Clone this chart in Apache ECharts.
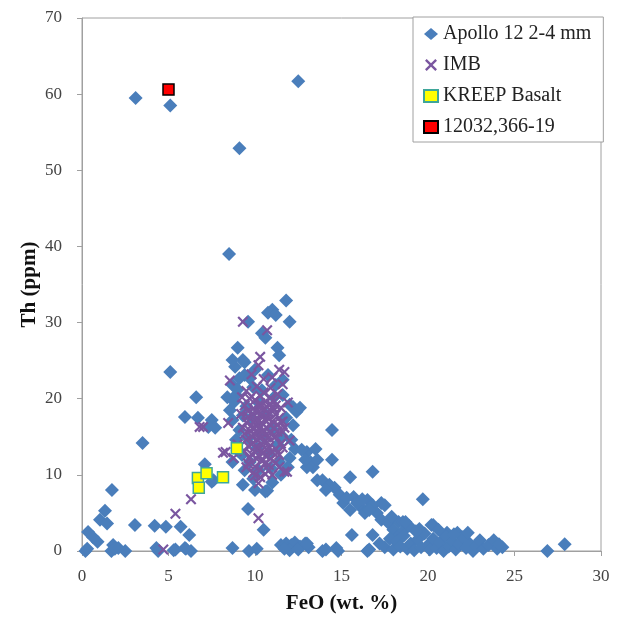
<!DOCTYPE html>
<html>
<head>
<meta charset="utf-8">
<script src="https://cdn.jsdelivr.net/npm/echarts@6/dist/echarts.min.js"></script>
<style>
  html, body { margin: 0; padding: 0; background: #fff; }
  #main { width: 621px; height: 619px; }
</style>
</head>
<body>
<div id="main"></div>
<script>
// FeO (wt. %) vs Th (ppm)
const xTicks = [0, 5, 10, 15, 20, 25, 30];
const yTicks = [0, 10, 20, 30, 40, 50, 60, 70];

const apollo = [
  // high-Th outliers
  [3.1, 59.5], [5.1, 58.5], [12.5, 61.7], [9.1, 52.9], [8.5, 39.0], [11.8, 32.9],
  // upper part of cluster
  [12.0, 30.1], [11.0, 31.7], [10.75, 31.3], [11.2, 31.0], [9.6, 30.1], [10.4, 28.6],
  [10.6, 28.0], [11.3, 26.7], [9.0, 26.7], [9.3, 25.1], [8.85, 24.2], [11.4, 25.7],
  [8.7, 25.1], [9.4, 24.8],
  // low FeO side
  [5.1, 23.5], [6.6, 20.2], [5.95, 17.6], [6.7, 17.5], [7.5, 17.2], [7.7, 16.2],
  [7.3, 16.3], [8.4, 20.2], [7.1, 11.4], [7.5, 9.1], [7.6, 9.3], [3.5, 14.2],
  [1.73, 8.0], [1.33, 5.3], [1.04, 4.1], [1.45, 3.6], [0.35, 2.5], [0.64, 1.8],
  [0.9, 1.2], [1.8, 0.8], [3.06, 3.4], [4.2, 3.3], [4.85, 3.2], [5.7, 3.2], [6.2, 2.1],
  // cluster edges
  [9.1, 22.7], [9.4, 23.1], [8.7, 21.8], [8.9, 20.5], [8.55, 18.5], [8.7, 17.2],
  [9.1, 15.9], [8.9, 14.6], [9.25, 12.6], [8.7, 11.7], [9.4, 10.6], [9.7, 11.7],
  [10.2, 10.6], [10.9, 10.9], [11.4, 11.7], [12.0, 12.2], [12.1, 14.6], [12.2, 16.5],
  [12.0, 19.2], [11.6, 20.5], [11.6, 22.5], [11.2, 21.8], [10.75, 23.1], [10.0, 23.8],
  [9.7, 22.7], [10.4, 21.1], [12.2, 18.9], [12.4, 18.3], [13.0, 13.0], [13.35, 11.0],
  [13.6, 9.3], [9.0, 21.2], [8.8, 19.6], [9.0, 13.2], [12.3, 13.4], [11.9, 11.0],
  // cluster interior
  [9.5, 19.0], [9.8, 17.5], [10.2, 19.5], [10.6, 18.0], [11.0, 16.0], [11.3, 14.0],
  [10.1, 13.5], [9.6, 14.8], [10.8, 12.8], [11.6, 15.0], [11.8, 17.5], [9.3, 17.8],
  [10.4, 15.2], [11.1, 20.2], [9.9, 21.5],
  // below cluster
  [9.3, 8.7], [10.0, 8.0], [10.7, 7.9], [9.6, 5.5], [10.5, 2.8], [10.6, 7.8],
  [9.9, 9.5], [11.0, 9.0], [11.5, 10.0],
  // high FeO trend
  [12.6, 18.8], [14.45, 15.9], [13.5, 13.4], [13.2, 11.7], [13.0, 11.0], [13.6, 12.0],
  [14.45, 12.0], [15.5, 9.7], [16.8, 10.4], [13.9, 9.3], [14.3, 8.7], [14.6, 8.3],
  [14.9, 7.4], [15.1, 6.3], [15.7, 7.1], [15.5, 5.4], [16.1, 5.8], [16.5, 6.7],
  [16.8, 6.0], [17.3, 6.3], [17.5, 6.0], [17.05, 5.0], [16.35, 5.0], [17.3, 4.1],
  [17.7, 3.7], [18.3, 3.8], [18.55, 3.8], [18.0, 2.8], [18.55, 2.6], [19.7, 6.8],
  [20.3, 3.4], [15.6, 2.1], [16.8, 2.1], [12.7, 13.3], [12.9, 12.0], [15.9, 6.3],
  [16.2, 6.8], [15.3, 7.0], [14.1, 8.0], [16.6, 5.4], [17.9, 4.5], [18.9, 3.3],
  [19.5, 2.9], [18.2, 1.8], [18.7, 3.8], [20.2, 3.4], [21.1, 2.4], [21.7, 2.4],
  // near zero
  [0.2, 0], [0.3, 0.3], [1.7, 0], [1.9, 0.3], [2.5, 0], [2.1, 0.4], [4.3, 0.4],
  [4.4, 0], [5.4, 0.2], [5.3, 0.1], [6.0, 0.3], [6.3, 0], [5.95, 0.4], [8.7, 0.4],
  [9.65, 0], [10.1, 0.3], [11.5, 0.8], [11.8, 1.0], [12.1, 0.8], [12.3, 1.1],
  [12.6, 0.6], [12.9, 1.0], [13.1, 0.5], [12.0, 0.1], [11.7, 0.3], [12.5, 0.2],
  [13.0, 1.0], [13.9, 0], [14.1, 0.2], [14.7, 0.4], [14.8, 0], [16.5, 0], [16.6, 0.2],
  [26.9, 0], [27.9, 0.9],
  [17.2, 1.0], [17.5, 0.5], [17.8, 1.6], [18.0, 0.2], [18.2, 1.2], [18.4, 0.6],
  [18.6, 2.0], [18.8, 0.3], [19.0, 1.0], [19.2, 0.1], [19.4, 1.5], [19.6, 0.5],
  [19.8, 2.3], [20.0, 0.8], [20.1, 0.2], [20.3, 1.6], [20.5, 0.4], [20.7, 1.1],
  [20.9, 0], [21.0, 2.0], [21.2, 0.6], [21.4, 1.3], [21.6, 0.2], [21.8, 0.9],
  [22.0, 1.8], [22.2, 0.4], [22.4, 1.0], [22.6, 0], [22.8, 0.7], [23.0, 1.4],
  [23.2, 0.3], [23.5, 0.8], [23.8, 1.4], [24.0, 0.3], [24.3, 0.5], [24.1, 0.9],
  [19.3, 2.6], [20.6, 2.8], [21.5, 2.2], [22.3, 2.4]
];

const imb = [
  [9.3, 30.1], [10.7, 29.0], [10.3, 25.5], [10.2, 24.4], [11.4, 23.8], [11.7, 23.5],
  [9.25, 20.2], [8.55, 22.4], [6.8, 16.3], [7.0, 16.3], [8.45, 16.8], [8.3, 13.0],
  [8.75, 12.2], [8.15, 12.9], [6.3, 6.8], [5.4, 4.9], [4.7, 0.2], [10.2, 8.9],
  [10.2, 4.3], [11.7, 10.4], [10.3, 9.7], [11.85, 10.4],
  [9.5, 21.0], [9.8, 20.3], [10.1, 21.6], [10.5, 20.8], [10.9, 21.4], [11.3, 20.6],
  [11.6, 21.9], [9.4, 19.1], [9.9, 18.7], [10.3, 19.4], [10.7, 18.9], [11.1, 19.6],
  [11.5, 18.8], [9.6, 17.6], [10.0, 17.1], [10.4, 17.8], [10.8, 17.3], [11.2, 17.9],
  [11.6, 17.0], [9.3, 16.2], [9.7, 15.8], [10.1, 16.4], [10.5, 15.9], [10.9, 16.5],
  [11.3, 15.7], [11.7, 16.2], [9.5, 14.6], [9.9, 14.2], [10.3, 14.8], [10.7, 14.3],
  [11.1, 14.9], [11.5, 14.1], [9.4, 13.1], [9.8, 12.7], [10.2, 13.3], [10.6, 12.5],
  [11.0, 13.0], [11.4, 12.6], [9.6, 11.5], [10.0, 11.1], [10.4, 11.8], [10.8, 11.3],
  [11.2, 11.6], [9.9, 10.3], [10.6, 10.1], [9.2, 18.0], [11.9, 19.5], [9.0, 14.0],
  [12.0, 14.5], [10.5, 22.6], [9.8, 23.2], [11.0, 22.8],
  // dense core
  [9.7, 20.0], [10.0, 19.8], [10.3, 20.4], [10.6, 19.6], [10.9, 20.1], [11.2, 19.1],
  [9.6, 18.4], [9.9, 17.9], [10.2, 18.3], [10.5, 18.6], [10.8, 18.1], [11.1, 18.5],
  [11.4, 17.5], [9.5, 16.9], [9.8, 16.5], [10.1, 17.5], [10.4, 16.8], [10.7, 16.1],
  [11.0, 17.0], [11.3, 16.6], [11.6, 15.6], [9.4, 15.4], [9.8, 15.1], [10.2, 15.6],
  [10.6, 15.2], [10.9, 15.5], [11.2, 15.0], [11.5, 16.9], [9.6, 13.8], [10.0, 13.6],
  [10.4, 14.0], [10.8, 13.7], [11.2, 13.4], [11.6, 13.6], [9.7, 12.2], [10.1, 12.1],
  [10.5, 12.9], [10.9, 12.1], [11.3, 12.9], [10.3, 10.7], [10.8, 10.6], [11.4, 11.0],
  [9.5, 11.0], [10.0, 9.9], [11.0, 10.0], [10.0, 18.4], [10.4, 13.2], [10.7, 17.6],
  [10.1, 14.7], [10.6, 11.6], [11.0, 18.9], [9.9, 16.0], [10.3, 16.2], [11.1, 16.2],
  [10.2, 17.0], [10.6, 17.1], [10.4, 15.6], [10.8, 14.9], [10.0, 15.3], [10.5, 14.4],
  [10.9, 19.3], [10.3, 18.9], [10.7, 13.2], [10.2, 12.6]
];

const kreep = [[8.95, 13.5], [6.7, 9.6], [7.2, 10.2], [8.15, 9.7], [6.75, 8.3]];

const sample = [[5.0, 60.6]];

const crossPath = 'path://M1.4,0L5,3.6L8.6,0L10,1.4L6.4,5L10,8.6L8.6,10L5,6.4L1.4,10L0,8.6L3.6,5L0,1.4Z';
const serif = 'Liberation Serif';

const chart = echarts.init(document.getElementById('main'));
chart.setOption({
  animation: false,
  backgroundColor: '#ffffff',
  grid: {
    left: 82, right: 20, top: 18, bottom: 68,
    show: true, borderColor: '#a0a0a0', borderWidth: 1
  },
  legend: {
    orient: 'vertical',
    left: 413, top: 17,
    padding: [7, 12, 5, 10],
    itemGap: 11,
    itemWidth: 14, itemHeight: 12,
    backgroundColor: '#fff',
    borderColor: '#a0a0a0', borderWidth: 1,
    textStyle: { fontFamily: serif, fontSize: 20, color: '#222', lineHeight: 20 },
    data: [
      { name: 'Apollo 12 2-4 mm', icon: 'diamond' },
      { name: 'IMB', icon: crossPath },
      { name: 'KREEP Basalt', icon: 'rect' },
      { name: '12032,366-19', icon: 'rect' }
    ]
  },
  xAxis: {
    type: 'value', min: 0, max: 30, interval: 5,
    name: 'FeO (wt. %)', nameLocation: 'middle', nameGap: 42,
    nameTextStyle: { fontFamily: serif, fontSize: 21, fontWeight: 'bold', color: '#111' },
    axisLine: { lineStyle: { color: '#a0a0a0' } },
    axisTick: { show: true, length: 5, lineStyle: { color: '#a0a0a0' } },
    axisLabel: { fontFamily: serif, fontSize: 17, color: '#444', margin: 17,
      customValues: xTicks },
    splitLine: { show: false }
  },
  yAxis: {
    type: 'value', min: 0, max: 70, interval: 10,
    name: 'Th (ppm)', nameLocation: 'middle', nameGap: 42, nameMoveOverlap: false,
    nameTextStyle: { fontFamily: serif, fontSize: 21, fontWeight: 'bold', color: '#111' },
    axisLine: { lineStyle: { color: '#a0a0a0' } },
    axisTick: { show: true, length: 5, lineStyle: { color: '#a0a0a0' } },
    axisLabel: { fontFamily: serif, fontSize: 17, color: '#444', margin: 20,
      customValues: yTicks },
    splitLine: { show: false }
  },
  series: [
    {
      name: 'Apollo 12 2-4 mm', type: 'scatter', symbol: 'diamond', symbolSize: 14,
      itemStyle: { color: '#4a7ebb', opacity: 1 }, data: apollo
    },
    {
      name: 'IMB', type: 'scatter', symbol: crossPath, symbolSize: 11,
      itemStyle: { color: '#7a56a0', opacity: 1 }, data: imb
    },
    {
      name: 'KREEP Basalt', type: 'scatter', symbol: 'rect', symbolSize: 11,
      itemStyle: { color: '#ffff00', borderColor: '#3fa69a', borderWidth: 1.5, opacity: 1 },
      data: kreep
    },
    {
      name: '12032,366-19', type: 'scatter', symbol: 'rect', symbolSize: 11,
      itemStyle: { color: '#ff0000', borderColor: '#000', borderWidth: 1.5, opacity: 1 },
      data: sample
    }
  ]
});
</script>
</body>
</html>
